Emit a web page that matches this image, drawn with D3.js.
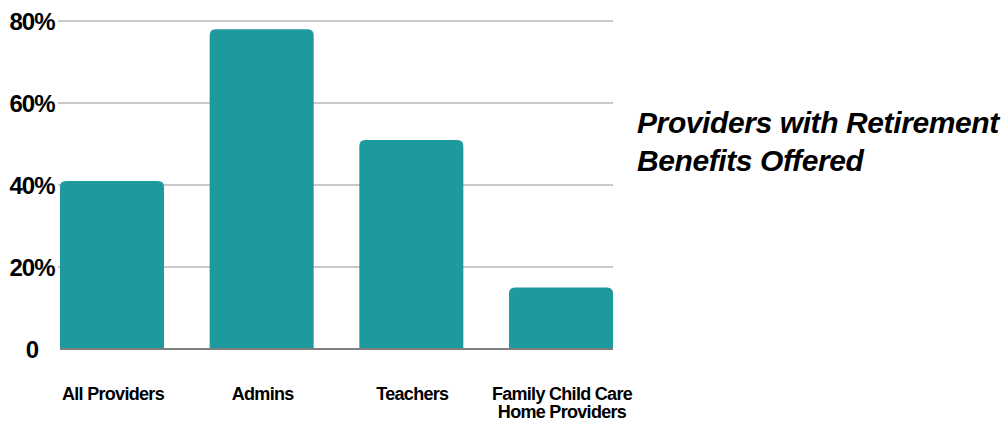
<!DOCTYPE html>
<html>
<head>
<meta charset="utf-8">
<script src="https://cdn.jsdelivr.net/npm/d3@7"></script>
<style>
  html, body { margin: 0; padding: 0; background: #ffffff; }
  svg { display: block; }
  text { font-family: "Liberation Sans", Arial, sans-serif; fill: #000; }
</style>
</head>
<body>
<svg id="chart" width="1008" height="423"></svg>
<script>
// Share of providers offering retirement benefits, by provider group
const categories = ["All Providers", "Admins", "Teachers", "Family Child Care\nHome Providers"];
const values = [41, 78, 51, 15];
const yTicks = [0, 20, 40, 60, 80];
const yTickLabels = ["0", "20%", "40%", "60%", "80%"];
const titleLines = ["Providers with Retirement", "Benefits Offered"];

const svg = d3.select("#chart");
const plot = { left: 60, right: 613, top: 21, bottom: 349 };

const x = d3.scaleBand()
  .domain(categories)
  .range([plot.left, plot.right])
  .paddingInner(0.305)
  .paddingOuter(0);

const y = d3.scaleLinear()
  .domain([0, 80])
  .range([plot.bottom, plot.top]);

// Gridlines
svg.append("g")
  .selectAll("line")
  .data(yTicks.filter(d => d !== 0))
  .join("line")
  .attr("x1", 58)
  .attr("x2", plot.right)
  .attr("y1", d => y(d))
  .attr("y2", d => y(d))
  .attr("stroke", "#c9c9c9")
  .attr("stroke-width", 2);

// Tick labels
svg.append("g")
  .selectAll("text")
  .data(yTicks)
  .join("text")
  .attr("x", 32)
  .attr("y", d => y(d))
  .attr("dy", "0.36em")
  .attr("text-anchor", "middle")
  .attr("font-size", 24)
  .attr("font-weight", "bold")
  .attr("letter-spacing", "-1")
  .text((d, i) => yTickLabels[i]);

// Bars with rounded top corners
const r = 6;
function barPath(x0, w, yTop, yBase) {
  return `M${x0},${yBase}V${yTop + r}Q${x0},${yTop} ${x0 + r},${yTop}` +
         `H${x0 + w - r}Q${x0 + w},${yTop} ${x0 + w},${yTop + r}V${yBase}Z`;
}

svg.append("g")
  .selectAll("path")
  .data(categories)
  .join("path")
  .attr("d", (c, i) => barPath(x(c), x.bandwidth(), y(values[i]), y(0)))
  .attr("fill", "#1e999d");

// Baseline
svg.append("line")
  .attr("x1", plot.left)
  .attr("x2", plot.right)
  .attr("y1", y(0))
  .attr("y2", y(0))
  .attr("stroke", "#7f7f7f")
  .attr("stroke-width", 2);

// Category labels (one text element per line)
const catG = svg.append("g");
categories.forEach(c => {
  const cx = x(c) + x.bandwidth() / 2 + 1;
  c.split("\n").forEach((line, k) => {
    catG.append("text")
      .attr("x", cx)
      .attr("y", 400 + k * 18)
      .attr("text-anchor", "middle")
      .attr("font-size", 18)
      .attr("font-weight", "bold")
      .attr("letter-spacing", "-0.7")
      .text(line);
  });
});

// Title
const title = svg.append("text")
  .attr("x", 637)
  .attr("y", 133)
  .attr("font-size", 30)
  .attr("font-weight", "bold")
  .attr("font-style", "italic")
  .attr("letter-spacing", "-0.4");
titleLines.forEach((line, k) => {
  title.append("tspan")
    .attr("x", 637)
    .attr("dy", k === 0 ? 0 : 38)
    .text(line);
});
</script>
</body>
</html>
